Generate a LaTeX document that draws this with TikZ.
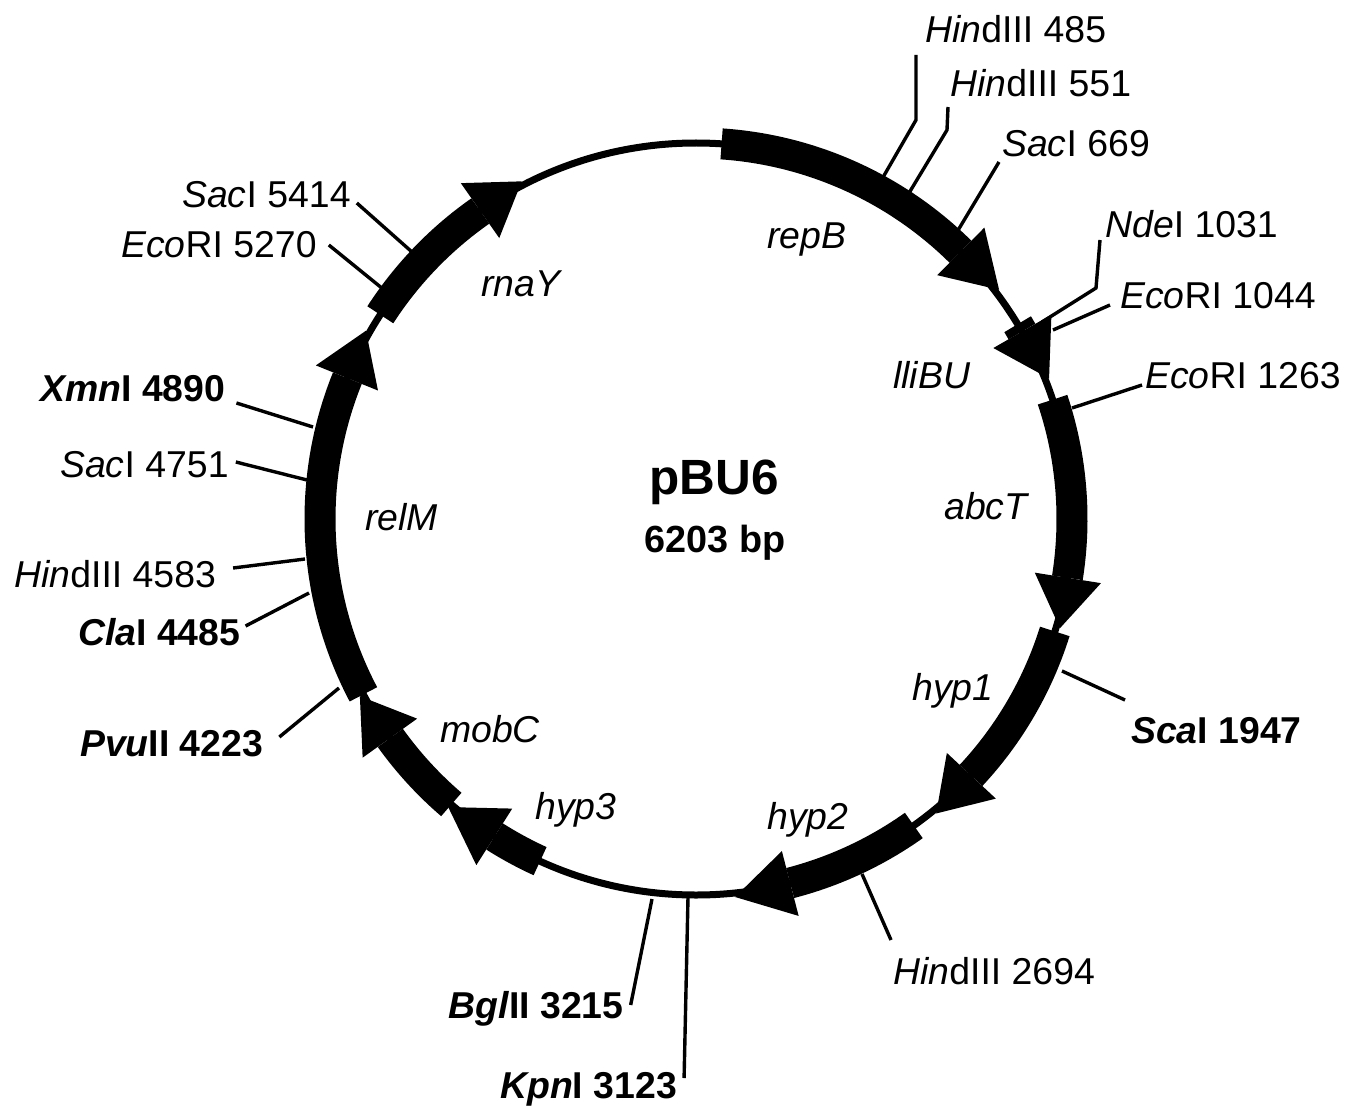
\documentclass[tikz,border=0pt]{standalone}
\usepackage{fontspec}
\setmainfont{Liberation Sans}
\usetikzlibrary{positioning}

\begin{document}
\begin{tikzpicture}[
  x=1pt,y=1pt,
  every node/.style={font=\fontsize{37.4}{40}\selectfont,inner sep=0pt,anchor=base west},
  site/.style={},
  boldsite/.style={font=\fontsize{37.4}{40}\selectfont\bfseries},
  genename/.style={font=\fontsize{37.4}{40}\selectfont\itshape},
  leader/.style={line width=3.4pt,color=black},
  backbone/.style={line width=7pt,color=black},
  genebody/.style={line width=31pt,color=black}
]
\useasboundingbox (0,0) rectangle (1348,-1107);

\begin{scope}[shift={(696,-519)}]
\draw[backbone] (0,0) circle (376);
\foreach \a/\b/\c in {86.1/45.3/37.1, 31.2/29.9/21.7, 18.5/-9/-16.7, -17.4/-43/-50.8,
  -54.6/-75.5/-84.1, 245.5/237.6/229.3, 229.4/215.6/207.8, 207.8/158/150.3, 147.1/125/117.3}{
  \draw[genebody] (\a:376) arc (\a:\b:376);
  \fill (\b:410) -- (\b:343) -- (\c:380) -- cycle;
}
\end{scope}

\node[font=\fontsize{49.5}{52}\selectfont\bfseries,anchor=base] (name) at (714,-494) {pBU6};
\node[font=\fontsize{37.8}{40}\selectfont\bfseries,anchor=base] (size) at (715,-552) {6203 bp};

\node[genename] (repB) at (767,-248) {repB};
\node[genename] (lliBU) at (893,-388) {lliBU};
\node[genename] (abcT) at (944,-519) {abcT};
\node[genename] (hypA) at (912,-700) {hyp1};
\node[genename] (hypB) at (767,-829) {hyp2};
\node[genename] (hypC) at (535,-819) {hyp3};
\node[genename] (mobC) at (440,-742) {mobC};
\node[genename] (relM) at (365,-530) {relM};
\node[genename] (rnaY) at (481,-296) {rnaY};

\node[site] (h485) at (925,-43) {\textit{Hin}dIII 485};
\node[site] (h551) at (950,-97) {\textit{Hin}dIII 551};
\node[site] (s669) at (1002,-157) {\textit{Sac}I 669};
\node[site] (n1031) at (1105,-237) {\textit{Nde}I 1031};
\node[site] (e1044) at (1120,-308) {\textit{Eco}RI 1044};
\node[site] (e1263) at (1145,-388) {\textit{Eco}RI 1263};
\node[boldsite] (s1947) at (1131,-743) {\textit{Sca}I 1947};
\node[site] (h2694) at (893,-984) {\textit{Hin}dIII 2694};
\node[boldsite] (k3123) at (500,-1098) {\textit{Kpn}I 3123};
\node[boldsite] (b3215) at (448,-1018) {\textit{Bgl}II 3215};
\node[boldsite] (p4223) at (80,-756) {\textit{Pvu}II 4223};
\node[boldsite] (c4485) at (78,-645) {\textit{Cla}I 4485};
\node[site] (h4583) at (14,-587) {\textit{Hin}dIII 4583};
\node[site] (s4751) at (60,-477) {\textit{Sac}I 4751};
\node[boldsite] (x4890) at (40,-401) {\textit{Xmn}I 4890};
\node[site] (e5270) at (121,-258) {\textit{Eco}RI 5270};
\node[site] (s5414) at (182,-208) {\textit{Sac}I 5414};

\draw[leader] (h485.base west) ++(-9,-12) -- ++(0,-65) -- (882,-179);
\draw[leader] (h551.base west) ++(-2,-10) -- ++(-1,-23) -- (909,-193);
\draw[leader] (s669.base west) ++(-3,-5) -- (957,-232);
\draw[leader] (n1031.base west) ++(-5,-3) -- ++(-4,-48) -- (1042,-322);
\draw[leader] (e1044.base west) ++(-10,3) -- (1053,-330);
\draw[leader] (e1263.base west) ++(-3,3) -- (1072,-408);
\draw[leader] (s1947.base west) ++(-6,43) -- (1062,-671);
\draw[leader] (h2694.base west) ++(-2,44) -- (862,-874);
\draw[leader] (k3123.base east) ++(7,20) -- (688,-897);
\draw[leader] (b3215.base east) ++(7,13) -- (652,-899);
\draw[leader] (p4223.base east) ++(16,19) -- (339,-688);
\draw[leader] (c4485.base east) ++(5,19) -- (309,-593);
\draw[leader] (h4583.base east) ++(17,19) -- (305,-559);
\draw[leader] (s4751.base east) ++(7,15) -- (307,-480);
\draw[leader] (x4890.base east) ++(11,-2) -- (313,-427);
\draw[leader] (e5270.base east) ++(12,13) -- (383,-289);
\draw[leader] (s5414.base east) ++(6,5) -- (412,-252);
\end{tikzpicture}
\end{document}
